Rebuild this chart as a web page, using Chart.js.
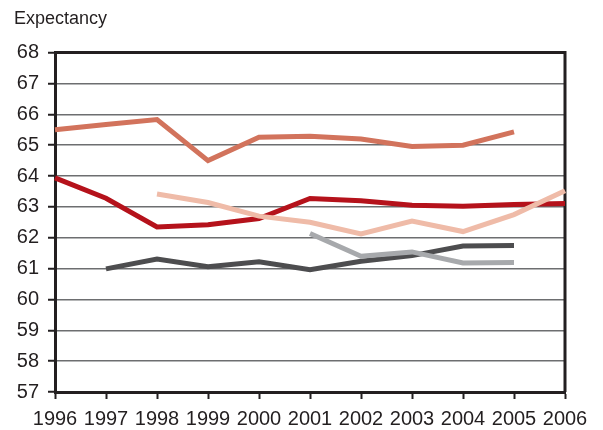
<!DOCTYPE html>
<html><head><meta charset="utf-8">
<script src="https://cdn.jsdelivr.net/npm/chart.js@4/dist/chart.umd.min.js"></script>
<style>html,body{margin:0;padding:0;background:#fff;}canvas{display:block;}</style>
</head><body>
<canvas id="c" width="603" height="430"></canvas>
<script>
const years = ['1996','1997','1998','1999','2000','2001','2002','2003','2004','2005','2006'];
const seriesSalmon   = [65.5, 65.67, 65.83, 64.5, 65.26, 65.29, 65.2, 64.96, 65.0, 65.43, null];
const seriesDarkRed  = [63.94, 63.28, 62.35, 62.42, 62.62, 63.27, 63.2, 63.05, 63.02, 63.08, 63.11];
const seriesPink     = [null, null, 63.42, 63.14, 62.7, 62.5, 62.12, 62.54, 62.2, 62.75, 63.52];
const seriesDarkGray = [null, 60.99, 61.31, 61.06, 61.22, 60.96, 61.24, 61.42, 61.73, 61.75, null];
const seriesLightGray= [null, null, null, null, null, 62.14, 61.4, 61.54, 61.18, 61.2, null];
const yMin = 57, yMax = 68;
const yTitle = 'Expectancy';

const textColor = '#231f20';
const font = {family: "'Liberation Sans', Arial, sans-serif", size: 20};

const framePlugin = {
  id: 'frame',
  beforeDatasetsDraw(chart) {
    const {ctx, chartArea: a} = chart;
    ctx.save();
    ctx.strokeStyle = textColor;
    ctx.lineWidth = 3;
    ctx.beginPath();
    ctx.moveTo(a.left, a.top);
    ctx.lineTo(a.right, a.top);
    ctx.lineTo(a.right, a.bottom);
    ctx.stroke();
    ctx.restore();
  }
};

function ds(data, color) {
  return {data, borderColor: color, backgroundColor: color, borderWidth: 5,
    pointRadius: 0, tension: 0, spanGaps: false, fill: false, borderCapStyle: 'butt'};
}

new Chart(document.getElementById('c'), {
  type: 'line',
  data: {
    labels: years,
    datasets: [
      ds(seriesLightGray, '#a7a9ac'),
      ds(seriesDarkGray, '#4d4d4f'),
      ds(seriesPink, '#efbba8'),
      ds(seriesDarkRed, '#b5121b'),
      ds(seriesSalmon, '#d2735c')
    ]
  },
  options: {
    responsive: false,
    animation: false,
    layout: {padding: {left: 14, right: 38, top: 8, bottom: 0}},
    plugins: {
      legend: {display: false},
      tooltip: {enabled: false},
      title: {display: true, text: yTitle, align: 'start', color: textColor,
        font: {family: font.family, size: 18, weight: 'normal'}, padding: {top: 0, bottom: 23}}
    },
    scales: {
      x: {
        offset: false,
        grid: {display: true, drawOnChartArea: false, drawTicks: true, tickLength: 7, tickColor: textColor, tickWidth: 2, offset: false},
        border: {display: true, color: textColor, width: 3},
        ticks: {color: textColor, font: font, padding: 8, maxRotation: 0, autoSkip: false},
        afterFit(s) { s.height = 38; }
      },
      y: {
        min: yMin, max: yMax,
        grid: {color: '#6d6e70', lineWidth: 1.5, drawTicks: true, tickLength: 7, tickColor: textColor, tickWidth: 2},
        border: {display: true, color: textColor, width: 3},
        ticks: {stepSize: 1, color: textColor, font: font, padding: 9},
        afterFit(s) { s.width = 41; }
      }
    }
  },
  plugins: [framePlugin]
});
</script>
</body></html>
